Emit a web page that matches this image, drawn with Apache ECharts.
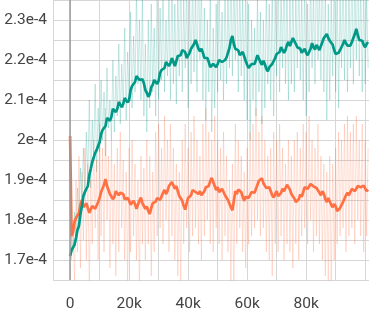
<!DOCTYPE html>
<html>
<head>
<meta charset="utf-8">
<script src="https://cdn.jsdelivr.net/npm/echarts@6/dist/echarts.min.js"></script>
<style>html,body{margin:0;padding:0;background:#fff}#c{width:369px;height:313px}</style>
</head>
<body>
<div id="c"></div>
<script>
// spacing between recorded points (steps)
const SMOOTH_STEP = 500;
const RAW_STEP = 500;
// values in units of 1e-4
const tealSmooth = [1.71,1.725,1.73,1.738,1.755,1.775,1.785,1.815,1.835,1.86,1.87,1.87,1.885,1.912,1.928,1.945,1.95,1.968,1.975,1.98,
1.995,2.015,2.025,2.022,2.035,2.055,2.06,2.048,2.058,2.078,2.082,2.07,2.078,2.095,2.092,2.082,2.09,2.105,2.104,2.094,
2.1,2.125,2.135,2.132,2.145,2.16,2.162,2.15,2.155,2.152,2.142,2.125,2.118,2.108,2.115,2.132,2.138,2.15,2.155,2.14,
2.148,2.168,2.175,2.17,2.18,2.195,2.2,2.185,2.192,2.205,2.2,2.185,2.19,2.21,2.215,2.212,2.225,2.228,2.22,2.205,
2.2,2.218,2.228,2.225,2.24,2.25,2.24,2.228,2.222,2.228,2.218,2.205,2.2,2.205,2.195,2.182,2.178,2.19,2.195,2.182,
2.19,2.2,2.205,2.195,2.19,2.2,2.206,2.218,2.23,2.25,2.26,2.24,2.228,2.232,2.224,2.212,2.21,2.22,2.215,2.198,
2.188,2.18,2.178,2.19,2.192,2.19,2.2,2.212,2.21,2.195,2.188,2.198,2.19,2.178,2.172,2.182,2.18,2.19,2.19,2.205,
2.215,2.212,2.22,2.232,2.228,2.218,2.225,2.238,2.245,2.235,2.24,2.255,2.252,2.24,2.232,2.236,2.228,2.218,2.222,2.228,
2.218,2.212,2.208,2.228,2.242,2.232,2.226,2.238,2.234,2.225,2.23,2.245,2.255,2.258,2.265,2.255,2.248,2.245,2.238,2.225,
2.215,2.212,2.218,2.225,2.226,2.24,2.25,2.242,2.236,2.24,2.236,2.245,2.248,2.265,2.278,2.262,2.25,2.255,2.248,2.238,
2.232,2.24,2.245];
const orangeSmooth = [2.01,1.76,1.77,1.795,1.805,1.80,1.818,1.838,1.85,1.832,1.835,1.842,1.83,1.818,1.822,1.835,1.84,1.828,1.826,1.845,
1.855,1.87,1.87,1.888,1.902,1.885,1.88,1.865,1.865,1.852,1.858,1.872,1.875,1.862,1.868,1.872,1.865,1.852,1.85,1.855,
1.848,1.838,1.842,1.848,1.84,1.828,1.832,1.848,1.856,1.842,1.835,1.828,1.834,1.822,1.815,1.83,1.842,1.838,1.846,1.855,
1.86,1.85,1.855,1.868,1.875,1.865,1.872,1.885,1.888,1.895,1.89,1.878,1.885,1.872,1.86,1.858,1.848,1.835,1.826,1.842,
1.855,1.852,1.862,1.875,1.88,1.87,1.875,1.865,1.872,1.862,1.858,1.872,1.882,1.878,1.885,1.898,1.905,1.895,1.885,1.875,
1.882,1.87,1.866,1.878,1.874,1.862,1.86,1.85,1.845,1.832,1.824,1.848,1.872,1.865,1.876,1.88,1.87,1.858,1.848,1.858,
1.862,1.855,1.86,1.87,1.875,1.868,1.872,1.888,1.898,1.895,1.904,1.892,1.888,1.88,1.876,1.882,1.872,1.862,1.856,1.865,
1.872,1.86,1.855,1.868,1.878,1.872,1.88,1.888,1.89,1.876,1.865,1.86,1.854,1.845,1.84,1.852,1.864,1.858,1.87,1.882,
1.886,1.878,1.88,1.89,1.894,1.884,1.888,1.88,1.878,1.868,1.862,1.872,1.866,1.852,1.845,1.855,1.85,1.838,1.832,1.84,
1.834,1.822,1.82,1.83,1.838,1.845,1.85,1.862,1.868,1.862,1.87,1.878,1.882,1.872,1.876,1.885,1.888,1.882,1.878,1.886,
1.882,1.872,1.876];
const tealRaw = [1.70,1.76,1.72,1.82,1.75,1.88,1.80,1.93,1.84,1.98,
1.86,2.02,1.90,2.10,1.88,2.05,1.95,2.14,1.92,2.08,
1.97,2.15,2.00,2.12,1.96,2.18,2.03,2.10,2.00,2.20,
2.02,2.16,2.06,2.24,2.04,2.19,2.08,2.28,2.05,2.22,
2.10,2.32,2.08,2.26,2.12,2.38,2.14,2.30,2.10,2.36,
2.06,2.24,2.02,2.30,2.08,2.34,2.12,2.28,2.06,2.38,
2.10,2.33,2.15,2.40,2.12,2.30,2.16,2.36,2.10,2.42,
2.14,2.34,2.09,2.38,2.16,2.44,2.12,2.35,2.18,2.40,
2.08,2.36,2.14,2.42,2.17,2.38,2.12,2.46,2.20,2.40,
2.10,2.33,2.05,2.30,2.12,2.36,2.02,2.28,2.08,2.34,
2.12,2.38,2.15,2.32,2.10,2.40,2.14,2.36,2.18,2.44,
2.16,2.42,2.20,2.48,2.12,2.40,2.16,2.36,2.10,2.38,
2.05,2.34,2.00,2.30,2.10,2.28,2.06,2.36,2.12,2.32,
2.04,2.30,2.08,2.38,2.14,2.34,2.10,2.40,2.06,2.36,
2.16,2.42,2.12,2.38,2.18,2.44,2.14,2.40,2.10,2.36,
2.14,2.40,2.12,2.36,2.18,2.42,2.15,2.38,2.10,2.40,
2.06,2.34,2.12,2.42,2.18,2.38,2.14,2.46,2.20,2.40,
2.15,2.48,2.12,2.38,2.05,2.34,2.10,2.36,2.16,2.42,
2.12,2.40,2.08,2.36,2.18,2.44,2.15,2.40,2.12,2.38,
2.18,2.46,2.14,2.42,2.20,2.48,2.16,2.40,2.12,2.38,
2.14,2.36,2.18];
const orangeRaw = [2.01,1.70,1.80,1.64,1.90,1.72,1.96,1.68,1.92,1.75,
1.98,1.70,1.94,1.62,1.90,1.74,2.00,1.78,1.95,1.70,
2.04,1.76,1.98,1.72,2.08,1.80,1.96,1.68,2.00,1.74,
1.94,1.66,1.98,1.72,2.02,1.78,1.95,1.70,1.92,1.64,
1.98,1.72,2.00,1.76,1.94,1.70,1.90,1.62,1.96,1.74,
1.93,1.70,2.00,1.74,1.96,1.66,1.92,1.72,2.02,1.76,
2.04,1.78,1.98,1.74,2.06,1.80,2.00,1.72,2.04,1.76,
1.98,1.70,1.94,1.66,1.92,1.62,2.00,1.74,2.04,1.78,
1.98,1.72,2.02,1.76,2.06,1.78,2.00,1.74,1.96,1.70,
2.04,1.76,2.08,1.80,2.02,1.74,2.00,1.72,2.06,1.78,
2.00,1.74,1.98,1.70,2.02,1.76,1.96,1.72,1.90,1.64,
1.94,1.60,2.04,1.74,2.00,1.78,1.96,1.72,1.92,1.68,
1.98,1.74,2.02,1.76,2.04,1.78,2.08,1.80,2.02,1.76,
2.06,1.78,2.00,1.72,1.96,1.70,1.98,1.66,2.02,1.74,
2.00,1.72,2.04,1.76,1.98,1.70,1.94,1.74,2.00,1.72,
1.96,1.68,2.00,1.74,2.02,1.70,1.98,1.76,2.04,1.78,
2.02,1.74,2.06,1.80,2.00,1.72,1.98,1.76,2.04,1.74,
1.96,1.70,1.94,1.66,1.92,1.64,1.96,1.62,1.94,1.70,
1.98,1.74,2.02,1.76,2.00,1.78,2.04,1.72,2.06,1.76,
2.02,1.78,2.04,1.74,2.06,1.80,2.00,1.76,2.04,1.72,
2.00,1.76,1.98];

const pts = (arr, step) => arr.map((v, i) => [i * step, v]);
const TEAL = '#009988', ORANGE = '#ff7043';
const FONT = 'Roboto, sans-serif';

const chart = echarts.init(document.getElementById('c'));
chart.setOption({
  animation: false,
  grid: { left: 53, right: 0, top: 0, bottom: 33, outerBoundsMode: 'none' },
  xAxis: {
    type: 'value', min: -5800, max: 101300, splitNumber: 10,
    axisLine: { show: false }, axisTick: { show: false },
    splitLine: { show: true, lineStyle: { color: '#d6d6d6', width: 1 } },
    axisLabel: {
      margin: 16, fontSize: 15.5, color: '#444', fontFamily: FONT,
      formatter: v => (v >= 0 && v < 100000 && Math.abs(v % 20000) < 1) ? (v === 0 ? '0' : (v / 1000) + 'k') : ''
    }
  },
  yAxis: {
    type: 'value', min: 1.65, max: 2.35, interval: 0.05,
    axisLine: { show: false }, axisTick: { show: false },
    splitLine: { show: true, lineStyle: { color: '#d6d6d6', width: 1 } },
    axisLabel: {
      margin: 6, fontSize: 15.5, color: '#444', fontFamily: FONT,
      formatter: v => { const t = Math.round(v * 100); return (t % 10 === 0 && t < 235) ? (t / 100) + 'e-4' : ''; }
    }
  },
  series: [
    { type: 'line', data: pts(tealRaw, RAW_STEP), showSymbol: false, lineStyle: { color: TEAL, width: 1, opacity: 0.22 }, silent: true,
      markLine: { silent: true, symbol: 'none', label: { show: false }, lineStyle: { color: '#9a9a9a', width: 1.5, type: 'solid' }, data: [{ xAxis: 0 }] } },
    { type: 'line', data: pts(orangeRaw, RAW_STEP), showSymbol: false, lineStyle: { color: ORANGE, width: 1, opacity: 0.22 }, silent: true },
    { type: 'line', data: pts(orangeSmooth, SMOOTH_STEP), showSymbol: false, lineStyle: { color: ORANGE, width: 2.7 }, silent: true },
    { type: 'line', data: pts(tealSmooth, SMOOTH_STEP), showSymbol: false, lineStyle: { color: TEAL, width: 2.7 }, silent: true }
  ]
});
</script>
</body>
</html>
